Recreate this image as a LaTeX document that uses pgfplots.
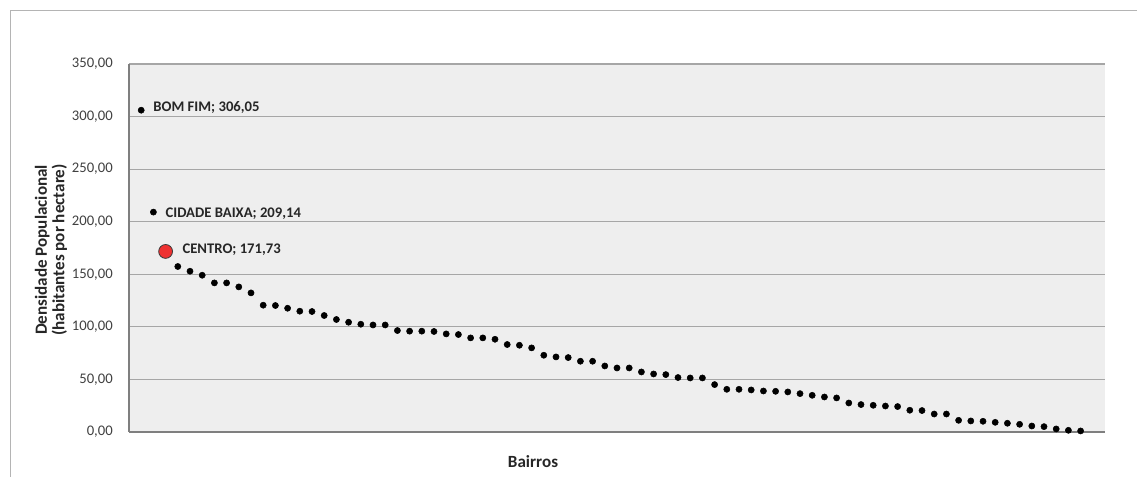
\documentclass[border=0pt]{standalone}
\usepackage{pgfplots}
\pgfplotsset{compat=1.18}
\usepackage{fontspec}
\setmainfont{Carlito}
\definecolor{bg}{HTML}{EEEEEE}
\definecolor{gridgray}{HTML}{A6A6A6}
\definecolor{axisgray}{HTML}{7F7F7F}
\definecolor{framegray}{HTML}{B4B4B4}
\definecolor{ticktxt}{HTML}{404040}
\definecolor{txt}{HTML}{262626}
\definecolor{centrored}{HTML}{EE3131}
\definecolor{outline}{HTML}{3A3A3A}
\begin{document}
\begin{tikzpicture}
\path[use as bounding box] (0pt,0pt) rectangle (852.75pt,357.75pt);
\draw[framegray, line width=0.75pt] (7.5pt,0pt) -- (7.5pt,349.9pt) -- (852.75pt,349.9pt);
\begin{axis}[
  at={(96.75pt,33.75pt)}, anchor=south west,
  scale only axis, width=732pt, height=276pt,
  xmin=0, xmax=80, ymin=0, ymax=350,
  xtick=\empty,
  ytick={0,50,100,150,200,250,300,350},
  axis x line*=bottom, axis y line*=left,
  axis line style={draw=axisgray, line width=1.5pt, -},
  ymajorgrids, grid style={draw=gridgray, line width=0.8pt},
  major tick length=0pt,
  axis background/.style={fill=bg},
  clip=false,
  /pgf/number format/.cd, fixed, fixed zerofill, precision=2, use comma, 1000 sep={}, assume math mode=true,
  /pgfplots/.cd,
  yticklabel style={anchor=east, inner sep=0pt, xshift=-12pt, text=ticktxt, font=\fontsize{11}{13}\selectfont},
]
\addplot[only marks, mark=*, mark size=2.3pt, black] table {
x y
1 306.05
2 209.14
4 157.4
5 152.9
6 149.1
7 141.8
8 141.8
9 138.0
10 132.3
11 120.6
12 120.3
13 117.7
14 114.9
15 114.6
16 110.8
17 107.0
18 104.4
19 102.5
20 101.8
21 101.8
22 96.5
23 95.9
24 95.9
25 95.6
26 93.3
27 92.7
28 89.5
29 89.5
30 88.2
31 83.2
32 82.5
33 80.0
34 73.0
35 71.4
36 70.8
37 67.3
38 67.3
39 62.8
40 60.9
41 60.9
42 57.1
43 55.2
44 54.6
45 51.8
46 51.4
47 51.4
48 45.1
49 40.6
50 40.6
51 40.0
52 39.0
53 38.7
54 38.1
55 36.5
56 34.9
57 33.3
58 32.4
59 27.6
60 26.1
61 25.4
62 24.7
63 24.2
64 20.7
65 20.4
66 17.1
67 17.1
68 11.1
69 10.5
70 10.2
71 9.2
72 8.3
73 7.3
74 5.7
75 5.1
76 2.9
77 1.6
78 1.0
};
\addplot[only marks, mark=*, mark size=5.2pt, mark options={fill=centrored, draw=outline, line width=0.6pt}] coordinates {(3,171.73)};
\node[anchor=base west, inner sep=0pt, xshift=9pt, yshift=-1.3pt, text=txt, font=\bfseries\fontsize{11}{13}\selectfont] at (axis cs:1,306.05) {BOM FIM; 306,05};
\node[anchor=base west, inner sep=0pt, xshift=9pt, yshift=-4pt, text=txt, font=\bfseries\fontsize{11}{13}\selectfont] at (axis cs:2,209.14) {CIDADE BAIXA; 209,14};
\node[anchor=base west, inner sep=0pt, xshift=12.5pt, yshift=-1.9pt, text=txt, font=\bfseries\fontsize{11}{13}\selectfont] at (axis cs:3,171.73) {CENTRO; 171,73};
\end{axis}
\node[rotate=90, align=center, inner sep=0pt, text=txt, font=\bfseries\fontsize{12.8}{13.2}\selectfont] at (38.25pt,170.25pt) {Densidade Populacional\\(habitantes por hectare)};
\node[inner sep=0pt, text=txt, font=\bfseries\fontsize{12.8}{14}\selectfont] at (399.75pt,11.25pt) {Bairros};
\end{tikzpicture}
\end{document}
